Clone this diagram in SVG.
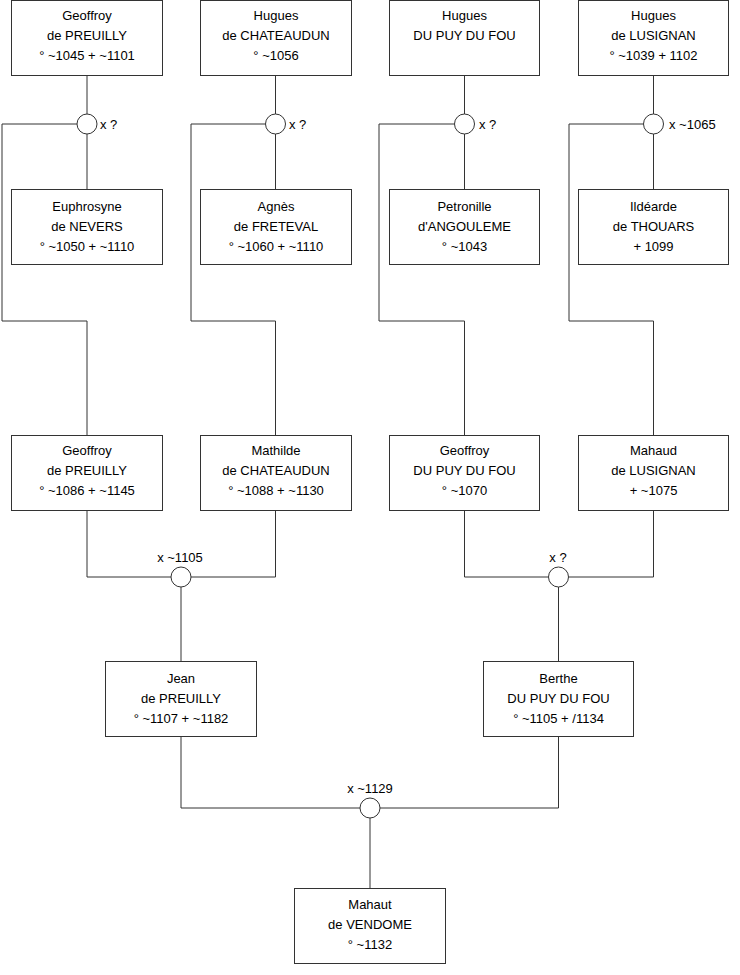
<svg xmlns="http://www.w3.org/2000/svg" width="740" height="975" viewBox="0 0 740 975">
<style>
.box{fill:#fff;stroke:#333;stroke-width:1}
.ln{fill:none;stroke:#333;stroke-width:1}
.m{fill:#fff;stroke:#333;stroke-width:1}
text{font-family:"Liberation Sans",Arial,sans-serif;font-size:13px;fill:#000}
.c{text-anchor:middle}
</style>
<rect width="740" height="975" fill="#fff"/>
<g id="connectors">
<path class="ln" d="M87 76V114M87 134V189M2 124H77M2 124V321H87V435"/>
<path class="ln" d="M275.5 76V114M275.5 134V189M191 124H265.5M191 124V321H275.5V435"/>
<path class="ln" d="M464.5 76V114M464.5 134V189M379 124H454.5M379 124V321H464.5V435"/>
<path class="ln" d="M653.5 76V114M653.5 134V189M569 124H643.5M569 124V321H653.5V435"/>
<path class="ln" d="M87 511V577H171M275.5 511V577H191M181 587V661"/>
<path class="ln" d="M464.5 511V577H548.5M653.5 511V577H568.5M558.5 587V661"/>
<path class="ln" d="M181 737V808H360M558.5 737V808H380M370 818V888"/>
<circle class="m" cx="87" cy="124" r="10"/>
<circle class="m" cx="275.5" cy="124" r="10"/>
<circle class="m" cx="464.5" cy="124" r="10"/>
<circle class="m" cx="653.5" cy="124" r="10"/>
<circle class="m" cx="181" cy="577" r="10"/>
<circle class="m" cx="558.5" cy="577" r="10"/>
<circle class="m" cx="370" cy="808" r="10"/>
<text x="100" y="129">x ?</text>
<text x="289" y="129">x ?</text>
<text x="479" y="129">x ?</text>
<text x="669" y="129">x ~1065</text>
<text class="c" x="180" y="562">x ~1105</text>
<text class="c" x="558" y="562">x ?</text>
<text class="c" x="370" y="793">x ~1129</text>
</g>
<g id="n1"><rect class="box" x="11.5" y="0.5" width="151" height="75"/><text class="c" x="87" y="20">Geoffroy</text><text class="c" x="87" y="40">de PREUILLY</text><text class="c" x="87" y="60">° ~1045 + ~1101</text></g>
<g id="n2"><rect class="box" x="200.5" y="0.5" width="151" height="75"/><text class="c" x="276" y="20">Hugues</text><text class="c" x="276" y="40">de CHATEAUDUN</text><text class="c" x="276" y="60">° ~1056</text></g>
<g id="n3"><rect class="box" x="389.5" y="0.5" width="150" height="75"/><text class="c" x="464.5" y="20">Hugues</text><text class="c" x="464.5" y="40">DU PUY DU FOU</text></g>
<g id="n4"><rect class="box" x="578.5" y="0.5" width="150" height="75"/><text class="c" x="653.5" y="20">Hugues</text><text class="c" x="653.5" y="40">de LUSIGNAN</text><text class="c" x="653.5" y="60">° ~1039 + 1102</text></g>
<g id="n5"><rect class="box" x="11.5" y="189.5" width="151" height="75"/><text class="c" x="87" y="211">Euphrosyne</text><text class="c" x="87" y="231">de NEVERS</text><text class="c" x="87" y="251">° ~1050 + ~1110</text></g>
<g id="n6"><rect class="box" x="200.5" y="189.5" width="151" height="75"/><text class="c" x="276" y="211">Agnès</text><text class="c" x="276" y="231">de FRETEVAL</text><text class="c" x="276" y="251">° ~1060 + ~1110</text></g>
<g id="n7"><rect class="box" x="389.5" y="189.5" width="150" height="75"/><text class="c" x="464.5" y="211">Petronille</text><text class="c" x="464.5" y="231">d'ANGOULEME</text><text class="c" x="464.5" y="251">° ~1043</text></g>
<g id="n8"><rect class="box" x="578.5" y="189.5" width="150" height="75"/><text class="c" x="653.5" y="211">Ildéarde</text><text class="c" x="653.5" y="231">de THOUARS</text><text class="c" x="653.5" y="251">+ 1099</text></g>
<g id="n9"><rect class="box" x="11.5" y="435.5" width="151" height="75"/><text class="c" x="87" y="455">Geoffroy</text><text class="c" x="87" y="475">de PREUILLY</text><text class="c" x="87" y="495">° ~1086 + ~1145</text></g>
<g id="n10"><rect class="box" x="200.5" y="435.5" width="151" height="75"/><text class="c" x="276" y="455">Mathilde</text><text class="c" x="276" y="475">de CHATEAUDUN</text><text class="c" x="276" y="495">° ~1088 + ~1130</text></g>
<g id="n11"><rect class="box" x="389.5" y="435.5" width="150" height="75"/><text class="c" x="464.5" y="455">Geoffroy</text><text class="c" x="464.5" y="475">DU PUY DU FOU</text><text class="c" x="464.5" y="495">° ~1070</text></g>
<g id="n12"><rect class="box" x="578.5" y="435.5" width="150" height="75"/><text class="c" x="653.5" y="455">Mahaud</text><text class="c" x="653.5" y="475">de LUSIGNAN</text><text class="c" x="653.5" y="495">+ ~1075</text></g>
<g id="n13"><rect class="box" x="105.5" y="661.5" width="151" height="75"/><text class="c" x="181" y="683">Jean</text><text class="c" x="181" y="703">de PREUILLY</text><text class="c" x="181" y="723">° ~1107 + ~1182</text></g>
<g id="n14"><rect class="box" x="483.5" y="661.5" width="150" height="75"/><text class="c" x="558.5" y="683">Berthe</text><text class="c" x="558.5" y="703">DU PUY DU FOU</text><text class="c" x="558.5" y="723">° ~1105 + /1134</text></g>
<g id="n15"><rect class="box" x="294.5" y="888.5" width="151" height="75"/><text class="c" x="370" y="909">Mahaut</text><text class="c" x="370" y="929">de VENDOME</text><text class="c" x="370" y="949">° ~1132</text></g>
</svg>
